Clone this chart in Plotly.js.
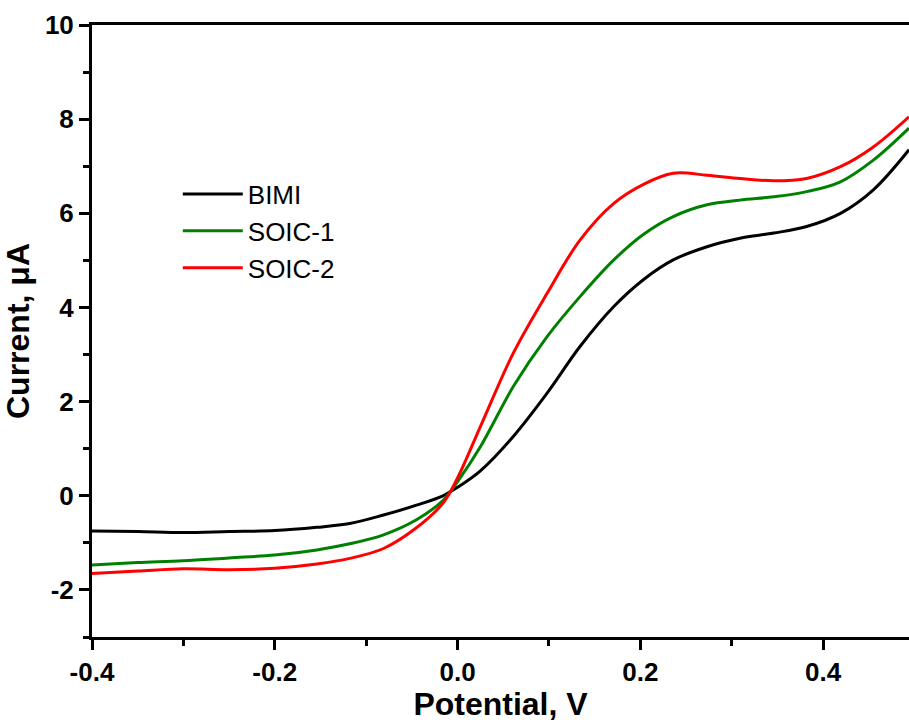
<!DOCTYPE html>
<html>
<head>
<meta charset="utf-8">
<script src="https://cdn.plot.ly/plotly-3.0.1.min.js"></script>
<style>html,body{margin:0;padding:0;background:#fff;}#chart{width:909px;height:722px;}</style>
</head>
<body>
<div id="chart"></div>
<script>
const seriesNames = ["BIMI", "SOIC-1", "SOIC-2"];
const seriesColors = ["#000000", "#008000", "#ff0000"];

const xTickVals = [-0.4, -0.2, 0.0, 0.2, 0.4];
const xTickText = ["-0.4", "-0.2", "0.0", "0.2", "0.4"];
const yTickVals = [-2, 0, 2, 4, 6, 8, 10];
const yTickText = ["-2", "0", "2", "4", "6", "8", "10"];

const bimiX = [-0.4, -0.35, -0.3, -0.25, -0.2, -0.154, -0.118, -0.081, -0.045, -0.016, 0.0, 0.025, 0.061, 0.098, 0.134, 0.171, 0.204, 0.236, 0.273, 0.309, 0.346, 0.382, 0.419, 0.455, 0.494];
const bimiY = [-0.75, -0.76, -0.78, -0.76, -0.74, -0.67, -0.59, -0.41, -0.2, 0.0, 0.18, 0.53, 1.26, 2.18, 3.17, 4.02, 4.6, 5.01, 5.29, 5.47, 5.58, 5.72, 6.0, 6.5, 7.35];

const soic1X = [-0.4, -0.35, -0.3, -0.25, -0.2, -0.154, -0.118, -0.081, -0.045, -0.016, 0.0, 0.025, 0.061, 0.098, 0.134, 0.171, 0.204, 0.236, 0.273, 0.309, 0.346, 0.382, 0.419, 0.455, 0.494];
const soic1Y = [-1.47, -1.42, -1.38, -1.32, -1.26, -1.15, -1.02, -0.83, -0.51, -0.1, 0.3, 1.04, 2.32, 3.38, 4.23, 5.01, 5.56, 5.93, 6.18, 6.28, 6.35, 6.46, 6.67, 7.13, 7.81];

const soic2X = [-0.4, -0.35, -0.3, -0.25, -0.2, -0.154, -0.118, -0.081, -0.045, -0.016, 0.0, 0.025, 0.061, 0.098, 0.134, 0.171, 0.204, 0.236, 0.273, 0.309, 0.346, 0.382, 0.419, 0.455, 0.494];
const soic2Y = [-1.65, -1.6, -1.55, -1.57, -1.54, -1.45, -1.33, -1.12, -0.68, -0.16, 0.38, 1.47, 3.03, 4.3, 5.43, 6.21, 6.62, 6.85, 6.81, 6.74, 6.69, 6.74, 6.99, 7.41, 8.05];

const xs = [bimiX, soic1X, soic2X];
const ys = [bimiY, soic1Y, soic2Y];

const traces = seriesNames.map((n, i) => ({
  x: xs[i], y: ys[i], name: n, type: 'scatter', mode: 'lines',
  line: {color: seriesColors[i], width: 3, shape: 'spline', smoothing: 1}
}));

const fam = 'Liberation Sans, Arial, sans-serif';
const tickFont = {family: fam, size: 26, color: '#000', weight: 'bold'};

const layout = {
  width: 909, height: 722,
  margin: {l: 92, r: 0, t: 25, b: 85},
  paper_bgcolor: '#fff', plot_bgcolor: '#fff',
  showlegend: true,
  legend: {x: 0.105, y: 0.762, xanchor: 'left', yanchor: 'top', bgcolor: 'rgba(0,0,0,0)',
           font: {family: fam, size: 26, color: '#000'},
           tracegroupgap: 0, itemwidth: 60},
  xaxis: {
    range: [-0.4, 0.494], showgrid: false, zeroline: false,
    showline: true, linecolor: '#000', linewidth: 3, mirror: true,
    ticks: 'outside', ticklen: 10, tickwidth: 3, tickcolor: '#000',
    tickmode: 'array', tickvals: xTickVals, ticktext: xTickText, tickfont: tickFont,
    minor: {dtick: 0.1, tick0: -0.4, ticks: 'outside', ticklen: 6, tickwidth: 3, tickcolor: '#000', showgrid: false},
    title: {text: 'Potential, V', font: {family: fam, size: 32, color: '#000', weight: 'bold'}, standoff: 5}
  },
  yaxis: {
    range: [-3, 10], showgrid: false, zeroline: false,
    showline: true, linecolor: '#000', linewidth: 3, mirror: false,
    ticks: 'outside', ticklen: 10, tickwidth: 3, tickcolor: '#000',
    tickmode: 'array', tickvals: yTickVals, ticktext: yTickText, tickfont: tickFont,
    minor: {dtick: 1, tick0: 0, ticks: 'outside', ticklen: 6, tickwidth: 3, tickcolor: '#000', showgrid: false},
    title: {text: 'Current, μA', font: {family: fam, size: 32, color: '#000', weight: 'bold'}, standoff: 10}
  }
};

Plotly.newPlot('chart', traces, layout, {displayModeBar: false, staticPlot: true});
</script>
</body>
</html>
